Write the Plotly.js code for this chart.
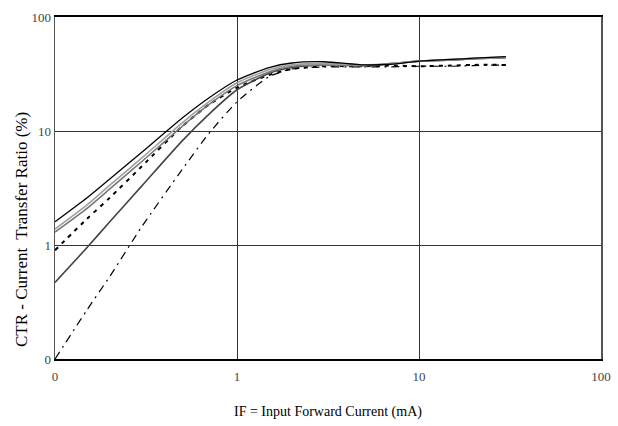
<!DOCTYPE html>
<html>
<head>
<meta charset="utf-8">
<script src="https://cdn.plot.ly/plotly-3.0.1.min.js"></script>
<style>html,body{margin:0;padding:0;background:#fff;}#chart{width:618px;height:426px;}</style>
</head>
<body>
<div id="chart"></div>
<script>
// Input forward current (mA)
const IF_mA = [0.1, 0.15, 0.2, 0.3, 0.5, 0.7, 1, 1.5, 2, 3, 5, 7, 10, 15, 20, 30];

// CTR (%) series
const ctrSolidBlack = [1.6, 2.6, 3.8, 6.5, 13, 19.5, 28, 36, 39.5, 40.5, 38, 38.5, 41, 42.5, 43.5, 45];
const ctrLightGray  = [1.38, 2.25, 3.35, 5.8, 11.8, 18, 26.5, 34.5, 38, 39, 38, 39, 41, 42.5, 43.5, 44.5];
const ctrMidGray    = [1.3, 2.1, 3.1, 5.4, 11, 17, 25, 33, 37, 38, 37.5, 39, 41, 42, 43, 44];
const ctrShortDash  = [0.9, 1.7, 2.6, 4.9, 11, 17, 24, 31, 35, 37, 37, 37.5, 37, 37.5, 38, 38];
const ctrDarkGray   = [0.47, 0.95, 1.6, 3.3, 8.2, 14, 23, 32, 36, 38, 37.5, 39, 41, 42, 43, 44];
const ctrDashDot    = [0.1, 0.27, 0.53, 1.45, 4.6, 9.5, 18, 30, 35, 36.5, 36.5, 36.5, 37, 37, 37.5, 38];

const tickVals = [0.1, 1, 10, 100];
const tickText = ['0', '1', '10', '100'];

const xTitle = 'IF = Input Forward Current (mA)';
const yTitle = 'CTR - Current  Transfer Ratio (%)';

const serif = 'Liberation Serif, Times New Roman, serif';

function tr(y, color, width, dash) {
  return {x: IF_mA, y: y, type: 'scatter', mode: 'lines',
          line: {color: color, width: width, dash: dash, shape: 'spline', smoothing: 0.6},
          hoverinfo: 'skip', showlegend: false};
}

const data = [
  tr(ctrDashDot, '#000000', 1.2, '8px,5px,2px,5px'),
  tr(ctrShortDash, '#000000', 2, '4px,5px'),
  tr(ctrDarkGray, '#444444', 1.6, 'solid'),
  tr(ctrMidGray, '#777777', 1.6, 'solid'),
  tr(ctrLightGray, '#a0a0a0', 1.6, 'solid'),
  tr(ctrSolidBlack, '#000000', 1.3, 'solid')
];

const axisCommon = {
  type: 'log', range: [-1, 2],
  tickmode: 'array', tickvals: tickVals, ticktext: tickText,
  color: '#444444',
  showgrid: true, gridcolor: '#333333', gridwidth: 1,
  zeroline: false, mirror: true, showline: true,
  linecolor: '#555555', linewidth: 1,
  ticks: 'inside', ticklen: 3, tickcolor: '#333333',
  tickfont: {family: serif, size: 13, color: '#444444'}
};

const layout = {
  width: 618, height: 426,
  margin: {l: 55, r: 17, t: 17, b: 67},
  paper_bgcolor: '#ffffff', plot_bgcolor: '#ffffff',
  showlegend: false,
  xaxis: Object.assign({}, axisCommon, {
    linecolor: '#000000', linewidth: 2, ticklabelstandoff: 4
  }),
  yaxis: Object.assign({}, axisCommon, {
    linewidth: 1.5
  }),
  annotations: [
    {text: xTitle, xref: 'paper', yref: 'paper', x: 0.5, y: (359 - 412) / 342,
     xanchor: 'center', yanchor: 'middle', showarrow: false,
     font: {family: serif, size: 14, color: '#000000'}},
    {text: yTitle, xref: 'paper', yref: 'paper', x: (22 - 55) / 546, y: (359 - 230) / 342,
     xanchor: 'center', yanchor: 'middle', textangle: -90, showarrow: false,
     font: {family: serif, size: 17, color: '#000000'}}
  ]
};

Plotly.newPlot('chart', data, layout, {staticPlot: true, displayModeBar: false});
</script>
</body>
</html>
